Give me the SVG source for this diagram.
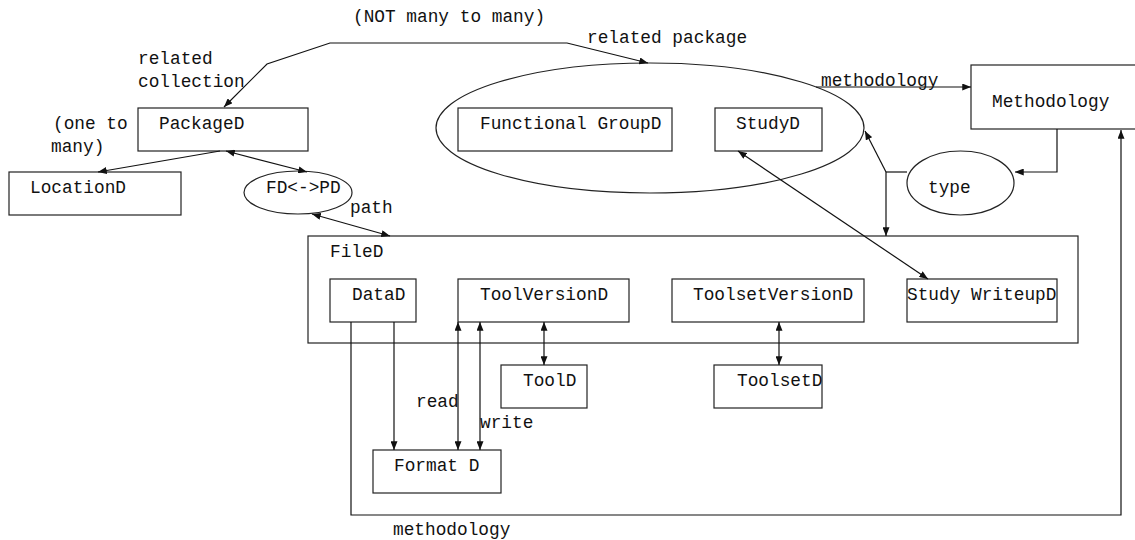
<svg xmlns="http://www.w3.org/2000/svg" width="1135" height="540" viewBox="0 0 1135 540">
<style>
  .b { fill: #fff; stroke: #222; stroke-width: 1.2; }
  .e { fill: none; stroke: #222; stroke-width: 1.2; }
  .t { font-family: "Liberation Mono", "DejaVu Sans Mono", monospace; font-size: 17.8px; fill: #111; }
  .c { fill: none; stroke: #111; stroke-width: 1.2; }
  .a { marker-end: url(#ah); }
  .d { marker-start: url(#ah); marker-end: url(#ah); }
</style>
<defs>
  <marker id="ah" viewBox="0 0 10 8" refX="10" refY="4" markerWidth="9" markerHeight="7" markerUnits="userSpaceOnUse" orient="auto-start-reverse">
    <path d="M0,0 L10,4 L0,8 z" fill="#111"/>
  </marker>
</defs>
<rect width="1135" height="540" fill="#fff"/>

<g id="fileD">
  <rect class="b" x="308" y="236" width="770" height="107"/>
  <text class="t" x="330" y="257">FileD</text>
</g>
<g id="pkgEllipse">
  <ellipse class="e" cx="650" cy="128" rx="214" ry="65"/>
</g>
<g id="packageD">
  <rect class="b" x="138" y="108" width="170" height="43"/>
  <text class="t" x="159" y="129">PackageD</text>
</g>
<g id="locationD">
  <rect class="b" x="9" y="172" width="172" height="43"/>
  <text class="t" x="30" y="193">LocationD</text>
</g>
<g id="fdpd">
  <ellipse class="e" cx="298" cy="192.5" rx="54" ry="21.5"/>
  <text class="t" x="266" y="193">FD&lt;-&gt;PD</text>
</g>
<g id="functionalGroupD">
  <rect class="b" x="458" y="108" width="214" height="43"/>
  <text class="t" x="480" y="129">Functional GroupD</text>
</g>
<g id="studyD">
  <rect class="b" x="715" y="108" width="107" height="43"/>
  <text class="t" x="736" y="129">StudyD</text>
</g>
<g id="methodology">
  <rect class="b" x="971" y="65" width="175" height="64"/>
  <text class="t" x="992" y="107">Methodology</text>
</g>
<g id="type">
  <ellipse class="e" cx="960.5" cy="183" rx="53.5" ry="32"/>
  <text class="t" x="928" y="193">type</text>
</g>
<g id="dataD">
  <rect class="b" x="330" y="279" width="86" height="43"/>
  <text class="t" x="352" y="300">DataD</text>
</g>
<g id="toolVersionD">
  <rect class="b" x="458" y="279" width="171" height="43"/>
  <text class="t" x="480" y="300">ToolVersionD</text>
</g>
<g id="toolsetVersionD">
  <rect class="b" x="672" y="279" width="192" height="43"/>
  <text class="t" x="693" y="300">ToolsetVersionD</text>
</g>
<g id="studyWriteupD">
  <rect class="b" x="907" y="279" width="150" height="43"/>
  <text class="t" x="907" y="300">Study WriteupD</text>
</g>
<g id="toolD">
  <rect class="b" x="501" y="365" width="86" height="43"/>
  <text class="t" x="523" y="386">ToolD</text>
</g>
<g id="toolsetD">
  <rect class="b" x="714" y="365" width="108" height="43"/>
  <text class="t" x="737" y="386">ToolsetD</text>
</g>
<g id="formatD">
  <rect class="b" x="373" y="450" width="128" height="43"/>
  <text class="t" x="394" y="471">Format D</text>
</g>

<g id="connectors">
  <polyline class="c d" points="224,107 267,64 330,43 567,43 648,63"/>
  <line class="c a" x1="220" y1="151" x2="98" y2="172"/>
  <line class="c d" x1="226" y1="151" x2="307" y2="172"/>
  <line class="c d" x1="312" y1="214" x2="390" y2="236"/>
  <line class="c a" x1="816" y1="87" x2="971" y2="87"/>
  <polyline class="c a" points="1057,129 1057,172 1015,172"/>
  <line class="c" x1="907" y1="172" x2="886" y2="172"/>
  <line class="c a" x1="886" y1="172" x2="865" y2="131"/>
  <line class="c a" x1="886" y1="172" x2="886" y2="236"/>
  <polyline class="c a" points="351,322 351,515 1121,515 1121,130"/>
  <line class="c d" x1="738" y1="151" x2="928" y2="279"/>
  <line class="c a" x1="394" y1="322" x2="394" y2="450"/>
  <line class="c d" x1="458" y1="322" x2="458" y2="450"/>
  <line class="c d" x1="480" y1="322" x2="480" y2="450"/>
  <line class="c d" x1="544" y1="322" x2="544" y2="365"/>
  <line class="c d" x1="779" y1="322" x2="779" y2="365"/>
</g>

<g id="labels">
  <text class="t" x="353" y="22">(NOT many to many)</text>
  <text class="t" x="587" y="43">related package</text>
  <text class="t" x="138" y="64">related</text>
  <text class="t" x="138" y="87">collection</text>
  <text class="t" x="53" y="129">(one to</text>
  <text class="t" x="51" y="152">many)</text>
  <text class="t" x="350" y="213">path</text>
  <text class="t" x="821" y="86">methodology</text>
  <text class="t" x="416" y="407">read</text>
  <text class="t" x="480" y="428">write</text>
  <text class="t" x="393" y="535">methodology</text>
</g>
</svg>
